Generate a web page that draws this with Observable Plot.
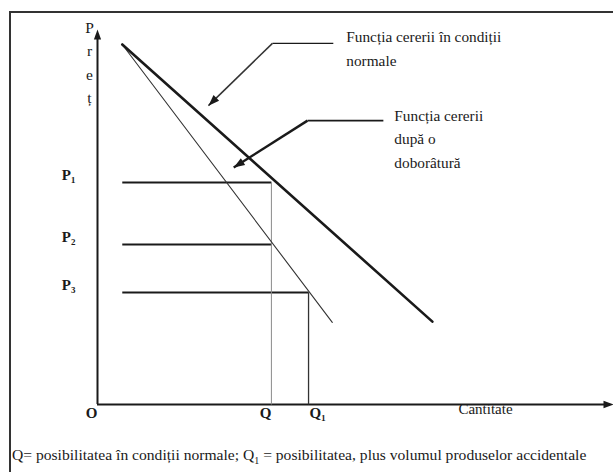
<!DOCTYPE html>
<html>
<head>
<meta charset="utf-8">
<script src="https://cdn.jsdelivr.net/npm/d3@7"></script>
<script src="https://cdn.jsdelivr.net/npm/@observablehq/plot@0.6"></script>
<style>
  html, body { margin: 0; padding: 0; background: #fff; }
  body { width: 613px; height: 472px; overflow: hidden; position: relative; font-family: "Liberation Serif", "DejaVu Serif", serif; }
  #chart { position: absolute; left: 0; top: 0; }
  #frame { position: absolute; left: 9px; top: 11px; width: 700px; height: 600px; border-left: 2px solid #333; border-top: 2px solid #333; pointer-events: none; }
  #caption { position: absolute; left: 12px; top: 446px; font-size: 15.6px; color: #1a1a1a; white-space: nowrap; }
</style>
</head>
<body>
<div id="frame"></div>
<div id="chart"></div>
<div id="caption">Q= posibilitatea în condiții normale; Q<sub style="font-size:10px">1</sub> = posibilitatea, plus volumul produselor accidentale</div>
<script>
// Demand curves: [quantity, price] end points
const normalDemand = [[4.8, 96], [64.9, 22.1]];
const afterDemand = [[4.8, 96], [45.5, 21.9]];

// Price levels
const priceLabels = ["P₁", "P₂", "P₃"];
const priceValues = [59.2, 42.7, 29.9];
const priceLineEnds = [33.7, 33.7, 40.9];
const priceLineStart = 4.8;

// Quantities
const quantityLabels = ["O", "Q", "Q₁"];
const quantityValues = [0, 33.7, 40.9];
const quantityPrice = [0, 59.2, 29.9];

// Axis titles
const yTitle = "P\nr\ne\nț";
const xTitle = "Cantitate";
const xTitleQ = 75.2;

// Annotations
const annotationLabels = ["Funcția cererii în condiții\nnormale", "Funcția cererii\ndupă o\ndoborâtură"];
const annotationTail = [[45.7, 96.3], [55.4, 75.7]];
const annotationCorner = [[33.9, 96.3], [40.7, 75.7]];
const annotationTip = [[21.5, 79.7], [26.4, 63.2]];

// layout
const W = 613, H = 440, ML = 97, MR = 0, MT = 29, MB = 36;
const pxPerQ = (W - ML - MR) / 100;
const pxPerP = (H - MT - MB) / 100;

const priceRows = priceLabels.map((label, i) => ({label, p: priceValues[i], q1: priceLineStart, q2: priceLineEnds[i]}));
const qtyRows = quantityLabels.map((label, i) => ({label, q: quantityValues[i], p: quantityPrice[i]}));
const annRows = annotationLabels.map((label, i) => {
  const dxp = (annotationTip[i][0] - annotationCorner[i][0]) * pxPerQ;
  const dyp = -(annotationTip[i][1] - annotationCorner[i][1]) * pxPerP;
  const rot = Math.atan2(dxp, -dyp) * 180 / Math.PI;
  return {
    label, tx: annotationTail[i][0], ty: annotationTail[i][1],
    cx: annotationCorner[i][0], cy: annotationCorner[i][1],
    px: annotationTip[i][0], py: annotationTip[i][1], rot
  };
});

const ink = "#1a1a1a";
const font = "Liberation Serif";

// filled triangular arrow head, tip at the anchor point
const head = {
  draw(context, l, r) {
    context.moveTo(0, -l);
    context.lineTo(r, 0);
    context.lineTo(-r, 0);
    context.closePath();
  }
};

const chart = Plot.plot({
  width: W,
  height: H,
  marginLeft: ML,
  marginRight: MR,
  marginTop: MT,
  marginBottom: MB,
  x: {domain: [0, 100], axis: null},
  y: {domain: [0, 100], axis: null},
  style: {fontFamily: font, background: "transparent", overflow: "visible"},
  marks: [
    // axes
    Plot.ruleX([0], {y1: 0, y2: 98, stroke: ink, strokeWidth: 2}),
    Plot.ruleY([0], {x1: 0, x2: 98.5, stroke: ink, strokeWidth: 2}),
    Plot.vector([[0, 100]], {x: d => d[0], y: d => d[1], rotate: 0, length: 10, r: 3.6, anchor: "end", shape: head, fill: ink, stroke: "none"}),
    Plot.vector([[100, 0]], {x: d => d[0], y: d => d[1], rotate: 90, length: 10, r: 3.8, anchor: "end", shape: head, fill: ink, stroke: "none"}),
    // price guide lines
    Plot.link(priceRows, {x1: "q1", x2: "q2", y1: "p", y2: "p", stroke: ink, strokeWidth: 2}),
    // quantity guide lines
    Plot.link(qtyRows.filter(d => d.label === "Q"), {x1: "q", x2: "q", y1: 0, y2: "p", stroke: "#8a8a8a", strokeWidth: 1}),
    Plot.link(qtyRows.filter(d => d.label === "Q₁"), {x1: "q", x2: "q", y1: 0, y2: "p", stroke: "#333", strokeWidth: 1.3}),
    // demand curves
    Plot.line(afterDemand, {x: d => d[0], y: d => d[1], stroke: "#333", strokeWidth: 1.1}),
    Plot.line(normalDemand, {x: d => d[0], y: d => d[1], stroke: ink, strokeWidth: 2.6}),
    // annotation leaders and arrows
    Plot.link(annRows.slice(0, 1), {x1: "tx", y1: "ty", x2: "cx", y2: "cy", stroke: ink, strokeWidth: 1.3}),
    Plot.link(annRows.slice(1), {x1: "tx", y1: "ty", x2: "cx", y2: "cy", stroke: ink, strokeWidth: 1.6}),
    Plot.link(annRows.slice(0, 1), {x1: "cx", y1: "cy", x2: "px", y2: "py", stroke: "#333", strokeWidth: 1.5}),
    Plot.link(annRows.slice(1), {x1: "cx", y1: "cy", x2: "px", y2: "py", stroke: ink, strokeWidth: 2.4}),
    Plot.vector(annRows, {x: "px", y: "py", rotate: "rot", length: 11, r: 4, anchor: "end", shape: head, fill: ink, stroke: "none"}),
    Plot.text(annRows.slice(0, 1), {x: "tx", y: "ty", text: "label", textAnchor: "start", lineAnchor: "top", dx: 13, dy: -18, fontSize: 15.3, lineHeight: 1.57, fill: ink}),
    Plot.text(annRows.slice(1), {x: "tx", y: "ty", text: "label", textAnchor: "start", lineAnchor: "top", dx: 11, dy: -16, fontSize: 15.3, lineHeight: 1.52, fill: ink}),
    // price labels
    Plot.text(priceRows, {x: 0, y: "p", text: "label", textAnchor: "end", dx: -22, dy: -7, fontSize: 15, fontWeight: "bold", fill: ink}),
    // quantity labels
    Plot.text(qtyRows.filter(d => d.label !== "Q₁"), {x: "q", y: 0, text: "label", textAnchor: "end", dy: 9, dx: 0, fontSize: 15, fontWeight: "bold", fill: ink}),
    Plot.text(qtyRows.filter(d => d.label === "Q₁"), {x: "q", y: 0, text: "label", textAnchor: "start", dy: 9, dx: 1, fontSize: 15, fontWeight: "bold", fill: ink}),
    // axis titles
    Plot.text([xTitle], {x: xTitleQ, y: 0, text: d => d, textAnchor: "middle", dy: 5, fontSize: 15, fill: ink}),
    Plot.text([yTitle], {x: 0, y: 100, text: d => d, textAnchor: "middle", lineAnchor: "top", dx: -8, dy: -13, fontSize: 15.5, lineHeight: 1.5, fill: ink})
  ]
});
document.getElementById("chart").appendChild(chart);
</script>
</body>
</html>
